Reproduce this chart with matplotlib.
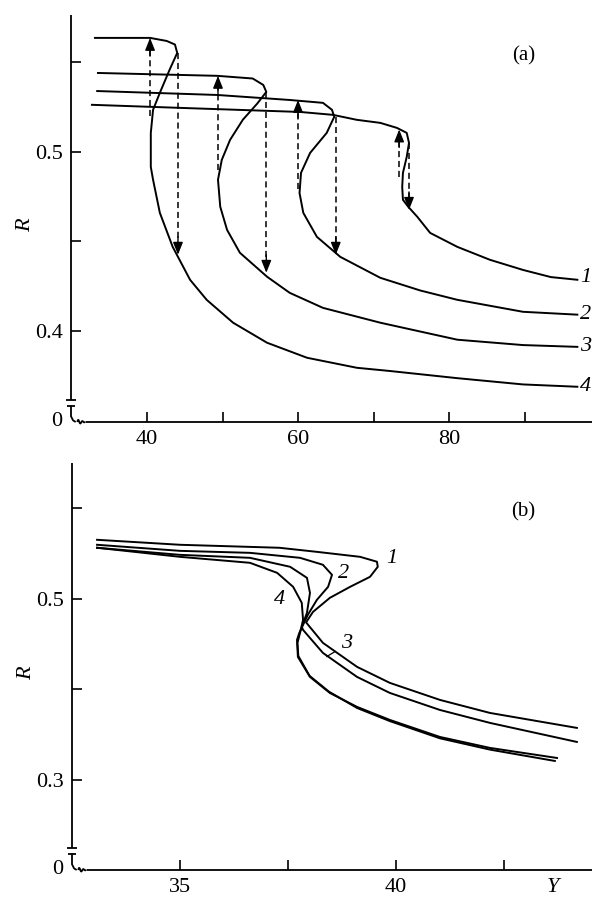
import numpy as np
import matplotlib.pyplot as plt

plt.rcParams['font.family'] = ['Liberation Serif', 'DejaVu Serif']

# ---- panel (a): R vs Y, four hysteresis curves ----
Y_a1 = [32.7, 45.0, 60.3, 64.6, 67.8, 70.9, 73.1, 74.4, 74.7, 74.4, 73.9, 73.8, 73.9, 74.6, 75.8, 77.5, 81.1, 85.4, 89.8, 93.5, 97.0]
R_a1 = [0.5263, 0.5245, 0.5223, 0.5207, 0.5179, 0.5162, 0.5134, 0.5106, 0.505, 0.4972, 0.4883, 0.4804, 0.4732, 0.4693, 0.4637, 0.4547, 0.4469, 0.4397, 0.434, 0.430, 0.4285]
Y_a2 = [33.4, 49.3, 58.9, 63.3, 64.5, 64.8, 63.8, 61.6, 60.4, 60.2, 60.7, 62.5, 65.6, 70.9, 76.2, 81.1, 89.8, 97.0]
R_a2 = [0.534, 0.5318, 0.529, 0.5274, 0.5235, 0.5196, 0.5106, 0.4994, 0.4883, 0.477, 0.4659, 0.4525, 0.4413, 0.4296, 0.4225, 0.4173, 0.4106, 0.409]
Y_a3 = [33.5, 49.3, 54.0, 55.4, 55.8, 54.6, 52.7, 51.0, 49.9, 49.4, 49.7, 50.6, 52.3, 55.9, 58.9, 63.3, 70.9, 81.1, 89.8, 97.0]
R_a3 = [0.5441, 0.5425, 0.541, 0.5374, 0.5335, 0.527, 0.518, 0.5067, 0.4955, 0.4844, 0.4693, 0.4564, 0.4436, 0.4302, 0.4212, 0.4128, 0.4045, 0.395, 0.392, 0.391]
Y_a4 = [33.1, 40.4, 42.6, 43.7, 44.0, 43.0, 41.7, 40.8, 40.5, 40.5, 40.8, 41.7, 43.4, 45.7, 47.9, 51.4, 55.9, 61.2, 67.8, 72.2, 81.1, 89.8, 97.0]
R_a4 = [0.5637, 0.5637, 0.562, 0.560, 0.5553, 0.546, 0.533, 0.5235, 0.5106, 0.4916, 0.4844, 0.4659, 0.4469, 0.4285, 0.4173, 0.4045, 0.3933, 0.3849, 0.3793, 0.3775, 0.3735, 0.370, 0.3687]
curves_a = [(Y_a1, R_a1), (Y_a2, R_a2), (Y_a3, R_a3), (Y_a4, R_a4)]

# jumps (dashed arrows): x position, start R, end R
jump_x = [40.4, 49.4, 60.0, 73.4, 44.1, 55.8, 65.0, 74.7]
jump_from = [0.52, 0.49, 0.479, 0.486, 0.5553, 0.5335, 0.5196, 0.505]
jump_to = [0.5637, 0.5425, 0.529, 0.5125, 0.4425, 0.4324, 0.4425, 0.4676]

labels = ['1', '2', '3', '4']
label_a_y = [0.4296, 0.409, 0.391, 0.3687]
label_a_x = 97.4

# ---- panel (b) ----
Y_b1 = [33.08, 35.0, 37.3, 38.17, 39.17, 39.56, 39.58, 39.40, 38.94, 38.47, 38.08, 37.92, 38.31, 39.10, 39.86, 41.02, 42.18, 44.19]
R_b1 = [0.5652, 0.5597, 0.5564, 0.5519, 0.5464, 0.541, 0.5354, 0.5243, 0.5133, 0.5011, 0.4856, 0.4740, 0.4514, 0.4249, 0.4072, 0.3884, 0.374, 0.3575]
Y_b2 = [33.08, 35.0, 36.62, 37.78, 38.31, 38.52, 38.43, 38.17, 37.96, 37.85, 37.76, 37.71, 37.73, 38.01, 38.47, 39.10, 39.86, 41.02, 42.18, 43.73]
R_b2 = [0.5597, 0.553, 0.5508, 0.5453, 0.5376, 0.5265, 0.5133, 0.4989, 0.4823, 0.4713, 0.462, 0.4547, 0.4359, 0.4138, 0.3961, 0.3807, 0.3663, 0.3475, 0.3354, 0.3243]
Y_b3 = [33.08, 35.0, 36.62, 37.55, 37.94, 38.01, 37.94, 37.82, 37.85, 38.31, 39.10, 39.86, 41.02, 42.18, 44.19]
R_b3 = [0.5564, 0.5486, 0.5453, 0.5354, 0.5232, 0.5066, 0.4845, 0.4691, 0.4657, 0.4403, 0.4138, 0.3961, 0.3773, 0.363, 0.342]
Y_b4 = [33.08, 35.0, 36.62, 37.25, 37.62, 37.82, 37.85, 37.78, 37.72, 37.74, 38.00, 38.45, 39.10, 39.86, 41.02, 42.18, 43.68]
R_b4 = [0.5564, 0.5464, 0.5398, 0.5287, 0.5133, 0.4956, 0.4768, 0.4624, 0.4514, 0.437, 0.415, 0.3975, 0.3795, 0.365, 0.346, 0.3335, 0.321]
curves_b = [(Y_b1, R_b1), (Y_b2, R_b2), (Y_b3, R_b3), (Y_b4, R_b4)]

label_b_x = [39.90, 38.78, 38.86, 37.31]
label_b_y = [0.545, 0.5284, 0.451, 0.4989]


def style_axes(ax, xlim, ylim, xticks, xlabels, yticks, ylabels):
    ax.set_xlim(xlim)
    ax.set_ylim(ylim)
    for s in ['top', 'right', 'left', 'bottom']:
        ax.spines[s].set_visible(False)
    ax.set_xticks(xticks)
    ax.set_xticklabels(xlabels)
    ax.set_yticks(yticks)
    ax.set_yticklabels(ylabels)
    ax.tick_params(direction='in', length=7, width=1.2, labelsize=16)
    ax.tick_params(axis='x', pad=6)
    ax.tick_params(axis='y', pad=6)
    kw = dict(transform=ax.transAxes, color='k', lw=1.3, clip_on=False, solid_capstyle='butt')
    # broken axes near the origin
    ax.plot([0, 0], [0.054, 1], **kw)
    ax.plot([-0.009, 0.009], [0.054, 0.054], **kw)
    ax.plot([-0.007, 0.007], [0.040, 0.040], **kw)
    ax.plot([0.0, 0.0, 0.004, 0.009], [0.040, 0.014, 0.004, 0.0], **kw)
    t = np.linspace(0, 1, 30)
    ax.plot(0.012 + 0.016 * t, 0.006 * np.sin(2 * np.pi * 2 * t) * (1 - t), **kw)
    ax.plot([0.028, 1], [0, 0], **kw)
    ax.text(-0.027, 0.0, '0', transform=ax.transAxes, ha='center', va='center', fontsize=16)
    ax.text(-0.087, 0.484, 'R', transform=ax.transAxes, ha='center', va='center',
            fontsize=16, style='italic', rotation=90)


fig = plt.figure(figsize=(5.92, 9.02), dpi=100)
ax1 = fig.add_axes([71 / 592, 1 - 422 / 902, 521 / 592, 407 / 902])
ax2 = fig.add_axes([72 / 592, 1 - 870 / 902, 520 / 592, 407 / 902])

style_axes(ax1, (29.93, 98.94), (0.349, 0.5765),
           [40, 50, 60, 70, 80, 90], ['40', '', '60', '', '80', ''],
           [0.4, 0.45, 0.5, 0.55], ['0.4', '', '0.5', ''])
style_axes(ax2, (32.5, 44.54), (0.2006, 0.650),
           [35, 37.5, 40, 42.5], ['35', '', '40', ''],
           [0.3, 0.4, 0.5, 0.6], ['0.3', '', '0.5', ''])

for Y, R in curves_a:
    ax1.plot(Y, R, color='k', lw=1.4, clip_on=False)

for x, r0, r1 in zip(jump_x, jump_from, jump_to):
    d = 0.010 if r1 > r0 else -0.010
    ax1.plot([x, x], [r0, r1 - d * 0.6], color='k', lw=1.1, ls=(0, (4, 2.5)))
    ax1.annotate('', xy=(x, r1), xytext=(x, r1 - d),
                 arrowprops=dict(arrowstyle='-|>,head_length=0.75,head_width=0.3',
                                 color='k', lw=1.0, shrinkA=0, shrinkB=0))

for lab, ry in zip(labels, label_a_y):
    ax1.text(label_a_x, ry, lab, fontsize=16, style='italic', ha='left', va='center', clip_on=False)
ax1.text(0.868, 0.90, '(a)', transform=ax1.transAxes, fontsize=15, ha='center', va='center')

for Y, R in curves_b:
    ax2.plot(Y, R, color='k', lw=1.4)
for lab, lx, ly in zip(labels, label_b_x, label_b_y):
    ax2.text(lx, ly, lab, fontsize=16, style='italic', ha='center', va='center')
ax2.plot([38.40, 38.59], [0.4363, 0.4418], color='k', lw=0.9)
ax2.text(0.867, 0.88, '(b)', transform=ax2.transAxes, fontsize=15, ha='center', va='center')
ax2.annotate('Y', xy=(43.63, 0), xycoords=('data', 'axes fraction'), xytext=(0, -6),
             textcoords='offset points', ha='center', va='top', fontsize=16, style='italic')

fig.savefig('out.png', dpi=100)
